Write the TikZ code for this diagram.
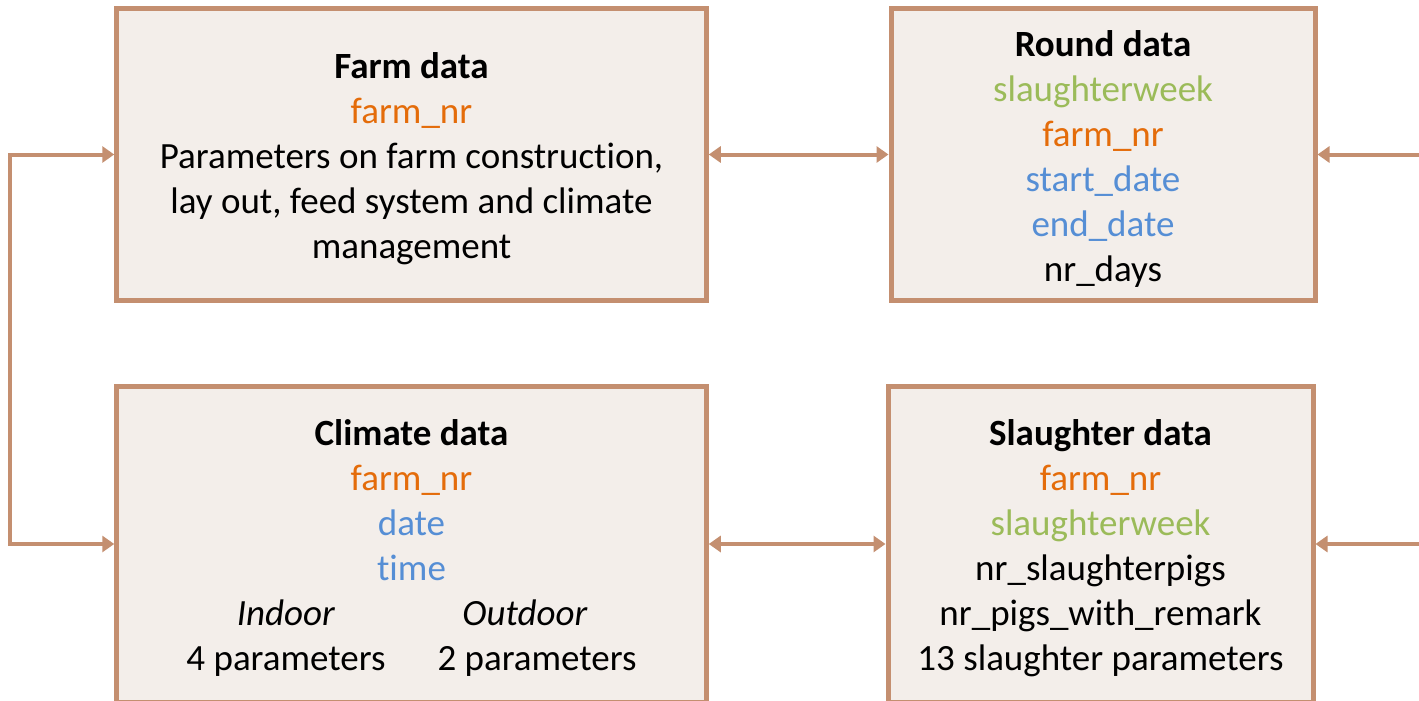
\documentclass[tikz,border=0pt]{standalone}
\usepackage{fontspec}
\setmainfont{Carlito}[Ligatures=NoCommon]
\usetikzlibrary{arrows.meta}
\definecolor{brd}{HTML}{C48F70}
\definecolor{fil}{HTML}{F3EEEA}
\definecolor{org}{HTML}{E46C0A}
\definecolor{grn}{HTML}{9BBB59}
\definecolor{blu}{HTML}{558ED5}
\begin{document}
\begin{tikzpicture}[x=1pt,y=-1pt,
  box/.style={draw=brd, fill=fil, line width=5pt, inner sep=0pt},
  txt/.style={inner sep=0pt, align=center, yshift=-4pt, font=\fontsize{37}{45}\selectfont},
  conn/.style={draw=brd, line width=4pt, -{Triangle[length=12pt,width=16pt]}},
  conn2/.style={draw=brd, line width=4pt, {Triangle[length=12pt,width=16pt]}-{Triangle[length=12pt,width=16pt]}}]
\useasboundingbox (0,0) rectangle (1419,701);
\clip (0,0) rectangle (1419,701);
\node[box, minimum width=589.5pt, minimum height=291pt] (farm) at (411.5,154.5) {};
\node[box, minimum width=424pt, minimum height=291pt] (round) at (1103,154.5) {};
\node[box, minimum width=589.5pt, minimum height=316pt] (climate) at (411.5,544) {};
\node[box, minimum width=425pt, minimum height=316pt] (slaughter) at (1100.5,544) {};
\node[txt] (farmtext) at (farm.center)
  {\textbf{Farm data}\\ \textcolor{org}{farm\_nr}\\ Parameters on farm construction,\\ lay out, feed system and climate\\ management};
\node[txt] (roundtext) at (round.center)
  {\textbf{Round data}\\ \textcolor{grn}{slaughterweek}\\ \textcolor{org}{farm\_nr}\\ \textcolor{blu}{start\_date}\\ \textcolor{blu}{end\_date}\\ nr\_days};
\node[txt] (climatetext) at (climate.center)
  {\textbf{Climate data}\\ \textcolor{org}{farm\_nr}\\ \textcolor{blu}{date}\\ \textcolor{blu}{time}\\
   \makebox[251pt]{\textit{Indoor}}\makebox[251pt]{\textit{Outdoor}\hspace*{24pt}}\\
   \makebox[251pt]{4 parameters}\makebox[251pt]{2 parameters}};
\node[txt] (slaughtertext) at (slaughter.center)
  {\textbf{Slaughter data}\\ \textcolor{org}{farm\_nr}\\ \textcolor{grn}{slaughterweek}\\ nr\_slaughterpigs\\ nr\_pigs\_with\_remark\\ 13 slaughter parameters};
\coordinate (r1) at (1425,154.5);
\coordinate (r2) at (1425,544);
\draw[conn2] (farm.west) -- ++(-104,0) |- (climate.west);
\draw[conn2] (farm.east) -- (round.west);
\draw[conn2] (climate.east) -- (slaughter.west);
\draw[conn] (r1) -- (round.east);
\draw[conn] (r2) -- (slaughter.east);
\end{tikzpicture}
\end{document}
